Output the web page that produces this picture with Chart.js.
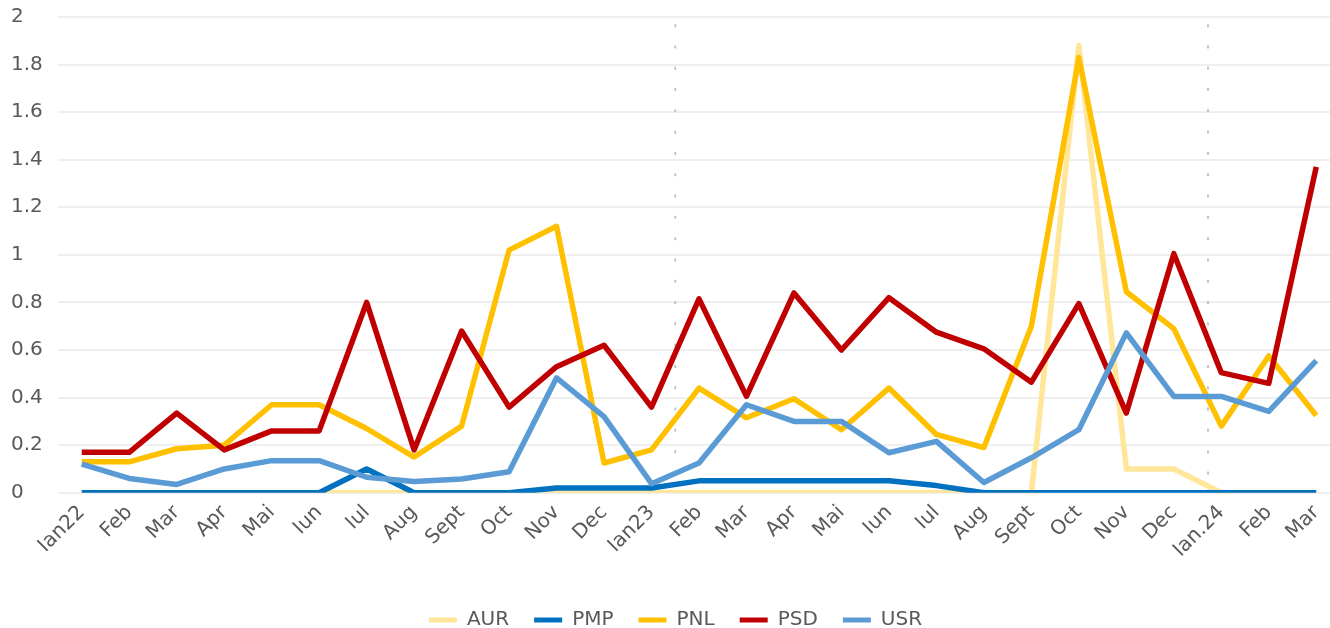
<!DOCTYPE html>
<html>
<head>
<meta charset="utf-8">
<script src="https://cdn.jsdelivr.net/npm/chart.js@4/dist/chart.umd.min.js"></script>
<style>
  html, body { margin: 0; padding: 0; background: #fff; overflow: hidden; }
  #wrap { width: 1340px; height: 640px; }
</style>
</head>
<body>
<div id="wrap"><canvas id="chart"></canvas></div>
<script>
const months = ['Ian22', 'Feb', 'Mar', 'Apr', 'Mai', 'Iun', 'Iul', 'Aug', 'Sept', 'Oct', 'Nov', 'Dec',
                'Ian23', 'Feb', 'Mar', 'Apr', 'Mai', 'Iun', 'Iul', 'Aug', 'Sept', 'Oct', 'Nov', 'Dec',
                'Ian.24', 'Feb', 'Mar'];

const aur = [0, 0, 0, 0, 0, 0, 0, 0, 0, 0, 0, 0,
             0, 0, 0, 0, 0, 0, 0, 0, 0, 1.88, 0.1, 0.1,
             0, 0, 0];
const pmp = [0, 0, 0, 0, 0, 0, 0.1, 0, 0, 0, 0.02, 0.02,
             0.02, 0.05, 0.05, 0.05, 0.05, 0.05, 0.03, 0, 0, 0, 0, 0,
             0, 0, 0];
const pnl = [0.13, 0.13, 0.185, 0.2, 0.37, 0.37, 0.27, 0.15, 0.28, 1.02, 1.12, 0.125,
             0.18, 0.44, 0.315, 0.395, 0.265, 0.44, 0.245, 0.19, 0.7, 1.83, 0.845, 0.69,
             0.28, 0.575, 0.325];
const psd = [0.17, 0.17, 0.335, 0.18, 0.26, 0.26, 0.8, 0.18, 0.68, 0.36, 0.53, 0.62,
             0.36, 0.815, 0.405, 0.84, 0.6, 0.82, 0.675, 0.605, 0.465, 0.795, 0.335, 1.005,
             0.505, 0.46, 1.37];
const usr = [0.12, 0.06, 0.035, 0.1, 0.135, 0.135, 0.065, 0.047, 0.058, 0.088, 0.483, 0.32,
             0.038, 0.125, 0.37, 0.3, 0.3, 0.168, 0.216, 0.043, 0.147, 0.265, 0.672, 0.405,
             0.405, 0.342, 0.555];

// dotted separators, in category units
const yearMarks = [12.5, 23.72];

Chart.defaults.font.family = '"DejaVu Sans", Verdana, sans-serif';
Chart.defaults.font.size = 20;
Chart.defaults.color = '#595959';

function series(label, data, color, order) {
    return {
        label: label,
        data: data,
        borderColor: color,
        backgroundColor: color,
        borderWidth: 5.5,
        pointRadius: 0,
        tension: 0,
        borderJoinStyle: 'round',
        order: order
    };
}

const yearDividers = {
    id: 'yearDividers',
    beforeDatasetsDraw(chart) {
        const { ctx, scales: { x, y } } = chart;
        ctx.save();
        ctx.strokeStyle = '#c4c4c4';
        ctx.lineWidth = 2;
        ctx.setLineDash([3, 18.3]);
        yearMarks.forEach(function (m) {
            const px = x.getPixelForValue(m);
            ctx.beginPath();
            ctx.moveTo(px, y.getPixelForValue(1.97));
            ctx.lineTo(px, y.getPixelForValue(0));
            ctx.stroke();
        });
        ctx.restore();
    }
};

const ctx = document.getElementById('chart').getContext('2d');
new Chart(ctx, {
    type: 'line',
    data: {
        labels: months,
        datasets: [
            series('AUR', aur, '#FFE699', 5),
            series('PMP', pmp, '#0070C0', 4),
            series('PNL', pnl, '#FFC000', 3),
            series('PSD', psd, '#C00000', 2),
            series('USR', usr, '#5B9BD5', 1)
        ]
    },
    options: {
        responsive: true,
        maintainAspectRatio: false,
        animation: false,
        layout: { padding: { left: 11, top: 17, right: 0, bottom: 0 } },
        plugins: {
            legend: {
                position: 'bottom',
                labels: {
                    boxWidth: 28,
                    boxHeight: 5,
                    padding: 25,
                    sort: function (a, b) { return a.datasetIndex - b.datasetIndex; },
                    generateLabels: function (chart) {
                        return Chart.defaults.plugins.legend.labels.generateLabels(chart).map(function (item) {
                            item.lineWidth = 0;
                            return item;
                        });
                    }
                }
            },
            tooltip: { enabled: false }
        },
        scales: {
            x: {
                offset: true,
                grid: { display: false, drawTicks: false },
                border: { display: false },
                ticks: { maxRotation: 45, minRotation: 45, autoSkip: false, padding: 8 },
                afterFit: function (scale) {
                    scale.paddingLeft = 0;
                    scale.paddingRight = 0;
                    scale.height += 15;
                }
            },
            y: {
                min: 0,
                max: 2,
                grid: { color: '#efefef', lineWidth: 2, drawTicks: false },
                border: { display: false },
                ticks: {
                    stepSize: 0.2,
                    crossAlign: 'far',
                    padding: 15,
                    callback: function (value) { return Math.round(value * 10) / 10; }
                },
                afterFit: function (scale) {
                    scale.width = 47;
                    scale.paddingTop = 0;
                    scale.paddingBottom = 0;
                }
            }
        }
    },
    plugins: [yearDividers]
});
</script>
</body>
</html>
